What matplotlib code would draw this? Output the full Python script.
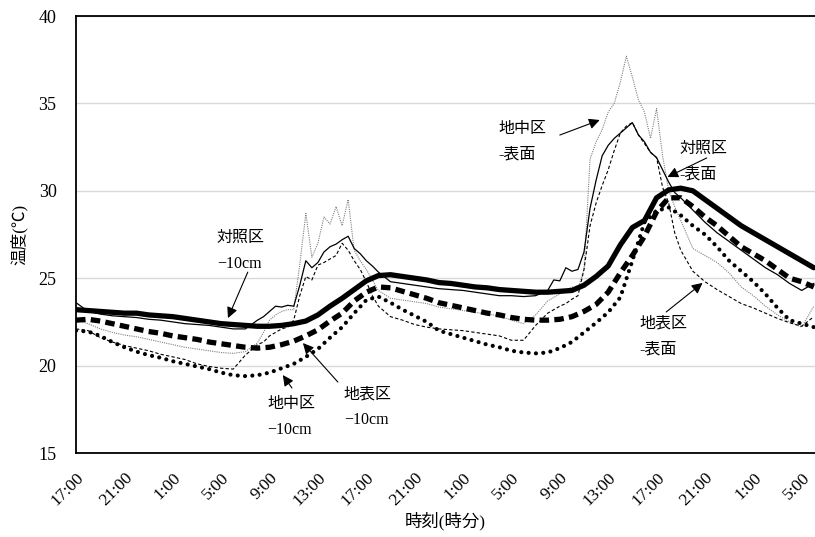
import numpy as np
import matplotlib
matplotlib.use('Agg')
import matplotlib.pyplot as plt

plt.rcParams['font.family'] = ['Liberation Serif', 'Noto Sans CJK JP']

# 経過時間(h)、17:00 を 0 とする
hours_soil = np.arange(0, 62)
hours_surf = np.concatenate([np.arange(0, 15), np.arange(15, 25.5, 0.5),
                             np.arange(26, 39), np.arange(39, 50.5, 0.5),
                             np.arange(51, 62)])

tick_hours = np.arange(0, 61, 4)
tick_labels = ['17:00', '21:00', '1:00', '5:00', '9:00', '13:00', '17:00', '21:00',
               '1:00', '5:00', '9:00', '13:00', '17:00', '21:00', '1:00', '5:00']

# -10cm
taisho_10 = [23.2, 23.15, 23.1, 23.05, 23.0, 23.0, 22.9, 22.85, 22.8, 22.7,
             22.6, 22.5, 22.4, 22.35, 22.3, 22.25, 22.25, 22.3, 22.4, 22.55,
             22.9, 23.4, 23.85, 24.35, 24.85, 25.15, 25.2, 25.1, 25.0, 24.9,
             24.75, 24.7, 24.6, 24.5, 24.45, 24.35, 24.3, 24.25, 24.2, 24.2,
             24.25, 24.3, 24.6, 25.1, 25.7, 26.9, 27.9, 28.3, 29.6, 30.05,
             30.15, 30.0, 29.5, 29.0, 28.5, 28.0, 27.6, 27.2, 26.8, 26.4,
             26.0, 25.6]
chihyo_10 = [22.6, 22.65, 22.55, 22.4, 22.25, 22.1, 21.95, 21.85, 21.7, 21.6,
             21.5, 21.35, 21.25, 21.15, 21.05, 21.0, 21.05, 21.2, 21.4, 21.7,
             22.05, 22.55, 23.0, 23.7, 24.2, 24.5, 24.45, 24.25, 24.05, 23.85,
             23.6, 23.45, 23.3, 23.15, 23.0, 22.9, 22.75, 22.65, 22.6, 22.6,
             22.65, 22.8, 23.1, 23.5, 24.2, 25.3, 26.3, 27.4, 28.8, 29.6,
             29.6, 29.1, 28.5, 28.0, 27.4, 26.8, 26.4, 26.0, 25.5, 25.0,
             24.8, 24.5]
chichu_10 = [22.0, 21.95, 21.7, 21.35, 21.05, 20.8, 20.6, 20.45, 20.25, 20.1,
             19.95, 19.8, 19.6, 19.45, 19.4, 19.45, 19.6, 19.85, 20.1, 20.5,
             20.95, 21.6, 22.2, 23.0, 23.75, 23.95, 23.6, 23.2, 22.85, 22.5,
             22.0, 21.8, 21.6, 21.4, 21.2, 21.05, 20.85, 20.75, 20.7, 20.75,
             21.0, 21.35, 21.9, 22.45, 23.05, 23.9, 26.0, 28.2, 28.85, 29.05,
             28.6, 28.0, 27.5, 26.8, 26.0, 25.4, 24.8, 24.1, 23.3, 22.6,
             22.4, 22.2]

# 表面
taisho_sf = [23.6, 23.1, 22.95, 22.85, 22.8, 22.75, 22.65, 22.6, 22.5, 22.4,
             22.35, 22.3, 22.2, 22.1, 22.1,
             22.6, 22.8, 23.1, 23.4, 23.35, 23.45, 23.4, 24.6, 26.0, 25.6,
             25.9, 26.5, 26.8, 26.95, 27.2, 27.4, 26.7, 26.4, 26.0, 25.7, 25.35,
             24.8, 24.7, 24.6, 24.5, 24.4, 24.35, 24.3, 24.2, 24.1, 24.0,
             24.0, 23.95, 24.0,
             24.3, 24.9, 24.85, 25.6, 25.4, 25.5, 26.5, 29.0, 30.6, 32.0,
             32.6, 33.0, 33.3, 33.6, 33.9, 33.2, 32.8, 32.2, 31.9, 31.2,
             30.5, 29.9, 29.6,
             28.9, 28.2, 27.6, 27.1, 26.6, 26.1, 25.6, 25.2, 24.7, 24.3, 24.7]
chichu_sf = [22.6, 22.4, 22.1, 21.9, 21.75, 21.65, 21.5, 21.35, 21.2, 21.05,
             20.95, 20.85, 20.75, 20.7, 20.8,
             21.3, 21.9, 22.6, 22.9, 23.1, 23.2, 23.2, 25.8, 28.7, 26.2,
             27.0, 28.5, 28.1, 29.1, 28.0, 29.5, 26.6, 26.0, 25.5, 24.9, 24.3,
             23.85, 23.75, 23.65, 23.55, 23.35, 23.25, 23.15, 23.05, 22.95, 22.85,
             22.6, 22.4, 22.9,
             23.7, 23.9, 24.1, 24.3, 24.5, 24.4, 25.5, 31.8, 32.8, 33.5,
             34.5, 35.0, 36.2, 37.7, 36.5, 35.2, 34.5, 33.0, 34.7, 32.0,
             30.0, 29.1, 28.3,
             26.7, 26.3, 25.9, 25.3, 24.5, 24.0, 23.4, 22.9, 22.5, 22.2, 23.4]
chihyo_sf = [22.1, 22.0, 21.6, 21.35, 21.15, 21.0, 20.85, 20.65, 20.5, 20.35,
             20.1, 19.95, 19.85, 19.8, 20.6,
             21.2, 21.35, 21.7, 21.9, 22.1, 22.2, 22.6, 24.0, 25.1, 24.9,
             25.75, 25.9, 26.1, 26.3, 27.0, 26.6, 26.0, 25.5, 24.8, 24.0, 23.4,
             22.8, 22.6, 22.35, 22.2, 22.1, 22.05, 22.0, 21.9, 21.8, 21.7,
             21.45, 21.45, 22.3,
             23.0, 23.2, 23.4, 23.55, 23.8, 24.0, 25.5, 28.0, 29.3, 30.3,
             31.2, 32.3, 33.3, 33.7, 33.9, 33.2, 32.7, 32.2, 31.9, 30.2,
             29.3, 27.6, 26.6,
             25.4, 24.8, 24.35, 23.95, 23.55, 23.3, 23.0, 22.7, 22.45, 22.25, 22.8]

fig = plt.figure(figsize=(8.15, 5.37), dpi=100)
ax = fig.add_axes([0.0933, 0.1564, 0.9067, 0.8138])

# 表面(細線)
ax.plot(hours_surf, chichu_sf, color='#808080', lw=0.8, ls=(0, (1, 1)))
ax.plot(hours_surf, chihyo_sf, color='black', lw=0.8, ls=(0, (3, 2)))
ax.plot(hours_surf, taisho_sf, color='black', lw=0.9)

# -10cm(太線)
ax.plot(hours_soil, chichu_10, color='black', lw=3.0, ls=(0, (0.01, 1.75)),
        solid_capstyle='round', dash_capstyle='round')
ax.plot(hours_soil, chihyo_10, color='black', lw=3.8, ls=(0, (1.8, 1.0)),
        dash_capstyle='butt')
ax.plot(hours_soil, taisho_10, color='black', lw=3.8, solid_capstyle='round')

ax.set_xlim(0, 61.1)
ax.set_ylim(15, 40)
ax.set_yticks([15, 20, 25, 30, 35, 40])
ax.set_xticks(tick_hours)
ax.set_xticklabels(tick_labels, rotation=45, ha='right', va='top',
                   rotation_mode='anchor', fontsize=12.5)
ax.tick_params(axis='y', length=0, pad=14, labelsize=13)
ax.tick_params(axis='x', length=0, pad=12)
ax.grid(axis='y', color='#d9d9d9', lw=1)
ax.set_axisbelow(True)
ax.spines['right'].set_visible(False)
for s in ['left', 'bottom', 'top']:
    ax.spines[s].set_linewidth(1.3)
    ax.spines[s].set_color('black')

ax.set_ylabel('温度(℃)', fontsize=12, labelpad=8)
ax.set_xlabel('時刻(時分)', fontsize=12.5, labelpad=2)

# 注記
notes = [
    ('対照区\n−10cm', (11.65, 27.76), (14.2, 25.35), (12.56, 22.72)),
    ('地中区\n−10cm', (15.8, 18.26), (17.85, 18.72), (17.1, 19.46)),
    ('地表区\n−10cm', (22.15, 18.83), (21.65, 19.06), (18.76, 21.29)),
    ('地中区\n-表面', (34.9, 33.99), (40.0, 33.19), (43.3, 34.05)),
    ('対照区\n-表面', (49.9, 32.85), (52.15, 31.88), (48.9, 30.79)),
    ('地表区\n-表面', (46.6, 22.84), (48.8, 23.07), (51.8, 24.73)),
]
for txt, pos, tail, tip in notes:
    ax.text(pos[0], pos[1], txt, ha='left', va='top', fontsize=11.5,
            linespacing=1.8)
    ax.annotate('', xy=tip, xytext=tail,
                arrowprops=dict(arrowstyle='-|>', color='black', lw=0.8,
                                mutation_scale=16, shrinkA=0, shrinkB=0))

fig.savefig('out.png', dpi=100)
